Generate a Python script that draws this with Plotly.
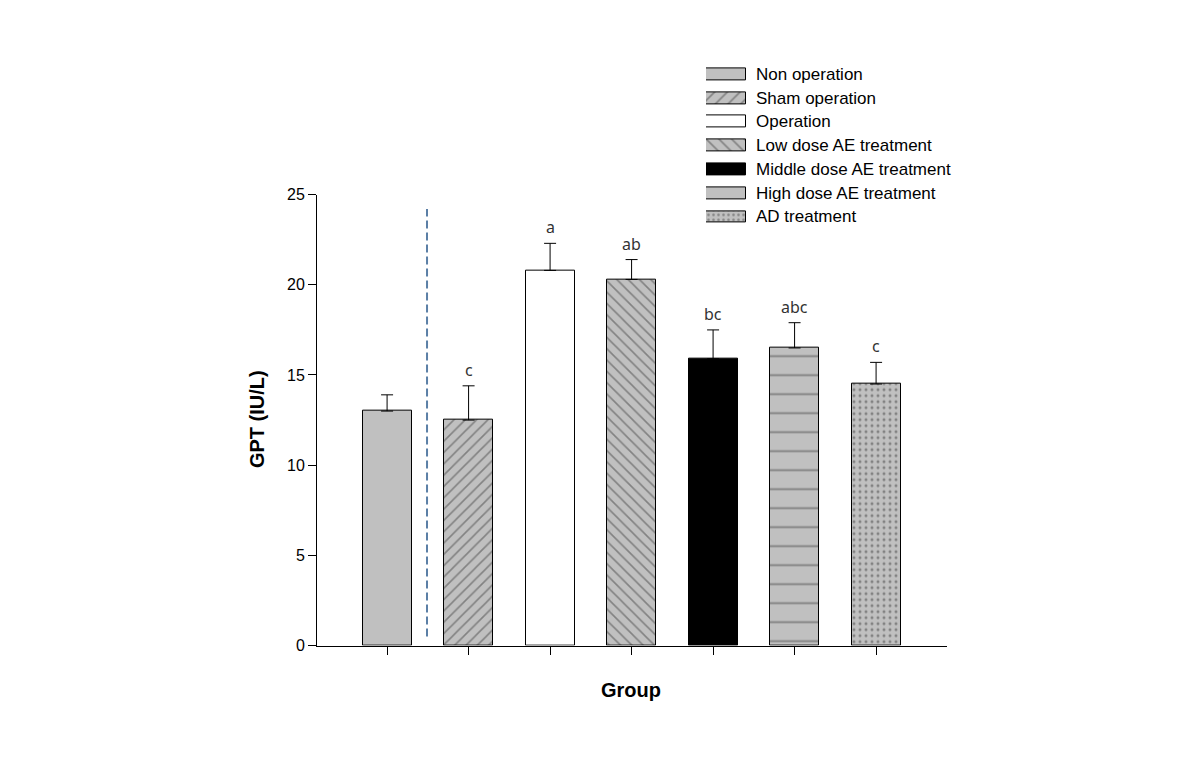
import plotly.graph_objects as go

groups = ["Non operation", "Sham operation", "Operation", "Low dose AE treatment",
          "Middle dose AE treatment", "High dose AE treatment", "AD treatment"]
gpt_mean = [13.0, 12.5, 20.8, 20.3, 15.9, 16.5, 14.5]
gpt_err = [0.9, 1.9, 1.5, 1.1, 1.6, 1.4, 1.2]
sig_letters = ["", "c", "a", "ab", "bc", "abc", "c"]

bar_colors = ["#c0c0c0", "#c0c0c0", "#ffffff", "#c0c0c0", "#000000", "#c0c0c0", "#c0c0c0"]
pat_shapes = ["", "/", "", "\\", "", "-", "."]
pat_fg = ["black", "black", "black", "black", "black", "black", "#505050"]
pat_size = [8, 8, 8, 8, 8, 19, 6]
pat_sol = [0.1, 0.2, 0.1, 0.2, 0.1, 0.1, 0.2]

W = 1190
# empirical vertical mapping of the rendered page
H_EFF, OFF = 738.6, 9.7
def px(x): return x / W
def py(y): return 1 - (y - OFF) / H_EFF

xcat = list(range(len(groups)))
font_main = "Liberation Sans, Arial"

fig = go.Figure()
fig.add_trace(go.Bar(
    x=xcat, y=gpt_mean, width=0.6,
    marker=dict(color=bar_colors, line=dict(color="black", width=1),
                pattern=dict(shape=pat_shapes, bgcolor=bar_colors, fgcolor=pat_fg,
                             size=pat_size, solidity=pat_sol)),
    error_y=dict(type="data", array=gpt_err, arrayminus=[0]*7, symmetric=False,
                 color="black", thickness=1, width=6),
    showlegend=False, hoverinfo="skip"))

# significance letters
for i, (m, e, t) in enumerate(zip(gpt_mean, gpt_err, sig_letters)):
    if t:
        fig.add_annotation(x=i, y=m + e, text=t, showarrow=False, yshift=16,
                           font=dict(family="Noto Sans", size=16, color="#333333"),
                           xref="x", yref="y")

# dashed separator
fig.add_shape(type="line", x0=0.49, x1=0.49, y0=0.5, y1=24.2, xref="x", yref="y",
              line=dict(color="#5b7fa6", width=2, dash="8px,4px"))

# legend swatches as horizontal bars on a second axis
fig.add_trace(go.Bar(
    y=xcat, x=[1]*7, orientation="h", width=0.5, xaxis="x2", yaxis="y2",
    marker=dict(color=bar_colors, line=dict(color="black", width=1),
                pattern=dict(shape=["", "/", "", "\\", "", "", "."], bgcolor=bar_colors,
                             fgcolor=pat_fg, size=[9, 9, 9, 9, 9, 9, 5],
                             solidity=[0.1, 0.18, 0.1, 0.18, 0.1, 0.1, 0.2])),
    showlegend=False, hoverinfo="skip"))
for i, g in enumerate(groups):
    fig.add_annotation(x=px(754), y=i, xref="paper", yref="y2", text=g, showarrow=False,
                       xanchor="left", yanchor="middle",
                       font=dict(family=font_main, size=17, color="black"))

# axis titles
fig.add_annotation(x=px(631), y=py(690), xref="paper", yref="paper", text="<b>Group</b>",
                   showarrow=False, xanchor="center", yanchor="middle",
                   font=dict(family=font_main, size=20, color="black"))
fig.add_annotation(x=px(257), y=py(420), xref="paper", yref="paper", text="<b>GPT (IU/L)</b>",
                   showarrow=False, xanchor="center", yanchor="middle", textangle=-90,
                   font=dict(family=font_main, size=20, color="black"))

fig.update_layout(
    width=W, height=757, margin=dict(l=0, r=0, t=0, b=0),
    paper_bgcolor="white", plot_bgcolor="white", bargap=0,
    xaxis=dict(domain=[px(317), px(947)], range=[-0.86, 6.87], tickvals=xcat, ticktext=[""]*7,
               ticks="outside", ticklen=8, tickcolor="black", showline=True, linecolor="black",
               linewidth=1, showgrid=False, zeroline=False),
    yaxis=dict(domain=[py(646), py(196)], range=[0, 25], tickvals=[0, 5, 10, 15, 20, 25],
               ticks="outside", ticklen=8, tickcolor="black", showline=True, linecolor="black",
               linewidth=1, showgrid=False, zeroline=False,
               tickfont=dict(family=font_main, size=16, color="black")),
    xaxis2=dict(domain=[px(706), px(746)], range=[0, 1], visible=False, anchor="y2"),
    yaxis2=dict(domain=[py(230), py(64)], range=[6.5, -0.5], visible=False, anchor="x2"),
)

fig.write_html("out.html")
